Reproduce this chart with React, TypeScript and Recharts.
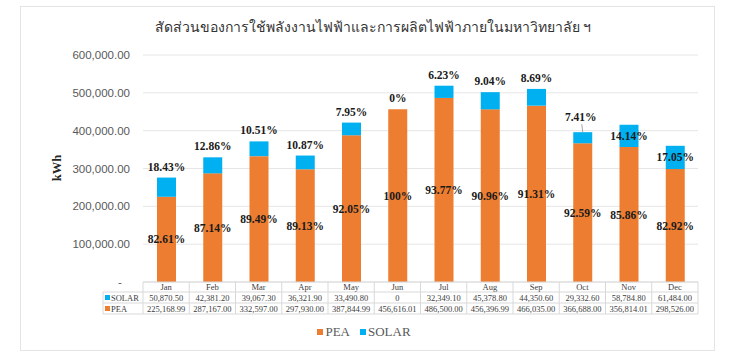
import { Bar, BarChart, CartesianGrid, LabelList, XAxis, YAxis } from 'recharts';

const months = ['Jan', 'Feb', 'Mar', 'Apr', 'May', 'Jun', 'Jul', 'Aug', 'Sep', 'Oct', 'Nov', 'Dec'];
const pea = [225168.99, 287167.0, 332597.0, 297930.0, 387844.99, 456616.01, 486500.0, 456396.99, 466035.0, 366688.0, 356814.01, 298526.0];
const solar = [50870.5, 42381.2, 39067.3, 36321.9, 33490.8, 0, 32349.1, 45378.8, 44350.6, 29332.6, 58784.8, 61484.0];
const peaPct = ['82.61%', '87.14%', '89.49%', '89.13%', '92.05%', '100%', '93.77%', '90.96%', '91.31%', '92.59%', '85.86%', '82.92%'];
const solarPct = ['18.43%', '12.86%', '10.51%', '10.87%', '7.95%', '0%', '6.23%', '9.04%', '8.69%', '7.41%', '14.14%', '17.05%'];
const yTicks = [0, 100000, 200000, 300000, 400000, 500000, 600000];

const data = months.map((month, i) => ({ month, pea: pea[i], solar: solar[i] }));

const ORANGE = '#ED7D31';
const BLUE = '#00B0F0';
const SERIF = '"Liberation Serif", "Times New Roman", serif';
const SANS = '"Liberation Sans", Arial, sans-serif';

const W = 734;
const H = 364;
const M = { top: 55, right: 36, left: 33, bottom: 50 };
const Y_W = 110;
const X_H = 32;
const PLOT_L = M.left + Y_W;
const PLOT_R = W - M.right;
const PLOT_B = H - M.bottom - X_H;
const BAND = (PLOT_R - PLOT_L) / months.length;
const ROWS = [PLOT_B, PLOT_B + 10, PLOT_B + 21, PLOT_B + 32];

// callouts that Excel moved around
const solarInside = ['Nov', 'Dec'];
const solarCallout = ['Oct'];

const fmt = (v: number) => (v === 0 ? '0' : v.toLocaleString('en-US', { minimumFractionDigits: 2, maximumFractionDigits: 2 }));

const YTick = (props: any) => {
  const { x, y, payload } = props;
  if (payload.value === 0) {
    return <text x={x - 10} y={y} dy={4} textAnchor="middle" fontSize={11.5} fontFamily={SANS} fill="#595959">-</text>;
  }
  return <text x={x} y={y} dy={4} textAnchor="end" fontSize={11.5} fontFamily={SANS} fill="#595959">{fmt(payload.value)}</text>;
};

const TableTick = (props: any) => {
  const { x, payload } = props;
  const i = months.indexOf(payload.value);
  const left = x - BAND / 2;
  const right = x + BAND / 2;
  const line = '#d9d9d9';
  const txt = { fontSize: 8.5, fontFamily: SERIF, fill: '#404040', textAnchor: 'middle' as const };
  return (
    <g>
      <line x1={left} x2={left} y1={ROWS[0]} y2={ROWS[3]} stroke={line} />
      {i === months.length - 1 && <line x1={right} x2={right} y1={ROWS[0]} y2={ROWS[3]} stroke={line} />}
      <line x1={left} x2={right} y1={ROWS[1]} y2={ROWS[1]} stroke={line} />
      <line x1={left} x2={right} y1={ROWS[2]} y2={ROWS[2]} stroke={line} />
      <line x1={left} x2={right} y1={ROWS[3]} y2={ROWS[3]} stroke={line} />
      <text x={x} y={ROWS[0] + 8} {...txt}>{payload.value}</text>
      <text x={x} y={ROWS[1] + 8.5} {...txt}>{fmt(solar[i])}</text>
      <text x={x} y={ROWS[2] + 8.5} {...txt}>{fmt(pea[i])}</text>
      {i === 0 && (
        <g>
          <line x1={PLOT_L - 40} x2={PLOT_L} y1={ROWS[1]} y2={ROWS[1]} stroke={line} />
          <line x1={PLOT_L - 40} x2={PLOT_L} y1={ROWS[2]} y2={ROWS[2]} stroke={line} />
          <line x1={PLOT_L - 40} x2={PLOT_L} y1={ROWS[3]} y2={ROWS[3]} stroke={line} />
          <line x1={PLOT_L - 40} x2={PLOT_L - 40} y1={ROWS[1]} y2={ROWS[3]} stroke={line} />
          <rect x={PLOT_L - 38} y={ROWS[1] + 3} width={5} height={5} fill={BLUE} />
          <text x={PLOT_L - 32} y={ROWS[1] + 8.5} fontSize={8.5} fontFamily={SERIF} fill="#404040">SOLAR</text>
          <rect x={PLOT_L - 38} y={ROWS[2] + 3} width={5} height={5} fill={ORANGE} />
          <text x={PLOT_L - 32} y={ROWS[2] + 8.5} fontSize={8.5} fontFamily={SERIF} fill="#404040">PEA</text>
        </g>
      )}
    </g>
  );
};

const pctStyle = { fontSize: 11.5, fontFamily: SERIF, fontWeight: 700, fill: '#1a1a1a', textAnchor: 'middle' as const };

// drawn from the PEA segment so that the zero-height SOLAR bar (Jun) still gets its label
const PctLabels = (props: any) => {
  const { x, y, width, height, value } = props;
  const i = months.indexOf(value);
  if (i < 0) return null;
  const cx = x + width / 2;
  const perUnit = height / pea[i];
  const solarH = solar[i] * perUnit;
  const top = y - solarH;
  const m = months[i];
  let solarText;
  if (solarInside.includes(m)) {
    solarText = <text x={cx} y={top + solarH / 2} dy={4} {...pctStyle}>{solarPct[i]}</text>;
  } else if (solarCallout.includes(m)) {
    solarText = (
      <g>
        <line x1={cx} x2={cx - 1} y1={top} y2={top - 8} stroke="#a6a6a6" />
        <text x={cx - 2} y={top - 15} dy={4} {...pctStyle}>{solarPct[i]}</text>
      </g>
    );
  } else {
    solarText = <text x={cx} y={top - 11} dy={4} {...pctStyle}>{solarPct[i]}</text>;
  }
  return (
    <g>
      <text x={cx} y={y + height / 2} dy={4} {...pctStyle}>{peaPct[i]}</text>
      {solarText}
    </g>
  );
};

export default function App() {
  return (
    <div style={{ position: 'absolute', left: 0, top: 0, width: W, height: H, background: '#fff' }}>
      <div style={{ position: 'absolute', left: 20, top: 6, width: 695, height: 345, border: '1px solid #e4e4e4', boxSizing: 'border-box' }} />
      <div style={{ position: 'absolute', left: 0, top: 17, width: 746, textAlign: 'center', fontFamily: SANS, fontSize: 14, lineHeight: '20px', color: '#333', whiteSpace: 'nowrap' }}>
        สัดส่วนของการใช้พลังงานไฟฟ้าและการผลิตไฟฟ้าภายในมหาวิทยาลัย ฯ
      </div>
      <div style={{ position: 'absolute', left: 57, top: 168, transform: 'translate(-50%, -50%) rotate(-90deg)', fontFamily: SERIF, fontWeight: 700, fontSize: 12.5, color: '#262626' }}>
        kWh
      </div>
      <div style={{ position: 'absolute', left: 0, top: 0 }}>
        <BarChart width={W} height={H} data={data} margin={M} barSize={19}>
          <CartesianGrid vertical={false} stroke="#e6e6e6" />
          <XAxis dataKey="month" height={X_H} interval={0} axisLine={{ stroke: '#d9d9d9' }} tickLine={false} tick={<TableTick />} />
          <YAxis width={Y_W} domain={[0, 600000]} ticks={yTicks} axisLine={false} tickLine={false} tickMargin={7} tick={<YTick />} />
          <Bar dataKey="pea" stackId="a" fill={ORANGE} isAnimationActive={false}>
            <LabelList dataKey="month" content={<PctLabels />} />
          </Bar>
          <Bar dataKey="solar" stackId="a" fill={BLUE} isAnimationActive={false} />
        </BarChart>
      </div>
      <div style={{ position: 'absolute', left: 0, top: 324, width: W - 6, display: 'flex', justifyContent: 'center', gap: 10, fontFamily: SERIF, fontSize: 13, color: '#595959' }}>
        <span style={{ display: 'flex', alignItems: 'center', gap: 2 }}>
          <span style={{ width: 6, height: 6, background: ORANGE, display: 'inline-block' }} />PEA
        </span>
        <span style={{ display: 'flex', alignItems: 'center', gap: 2 }}>
          <span style={{ width: 6, height: 6, background: BLUE, display: 'inline-block' }} />SOLAR
        </span>
      </div>
    </div>
  );
}
